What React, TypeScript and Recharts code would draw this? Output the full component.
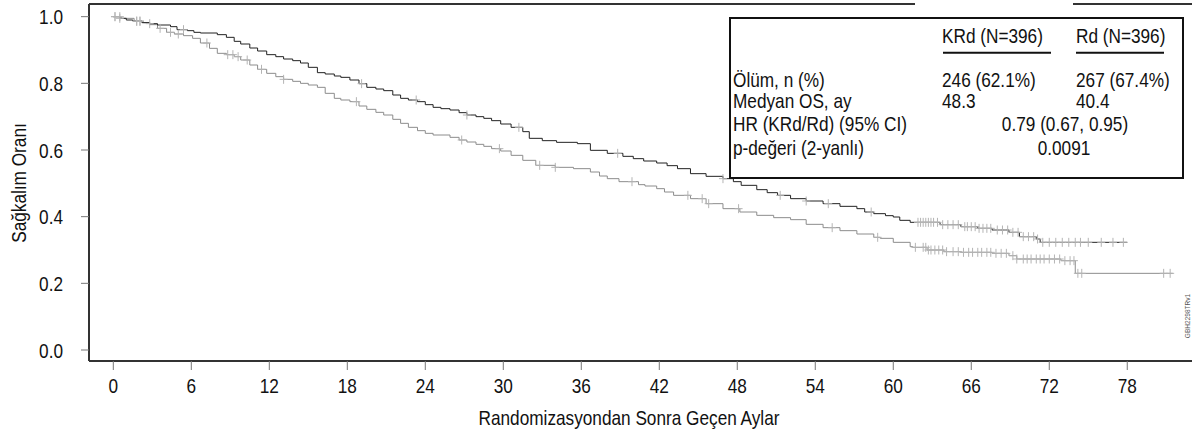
import React from 'react';
import { ComposedChart, Line, Scatter, XAxis, YAxis } from 'recharts';

const KRD_MONTHS = [0,0.5,1.0,1.5,2.2,2.8,3.4,4.4,4.9,5.7,6.2,6.7,8.0,8.7,9.3,9.8,10.5,11.1,11.8,12.5,13.1,13.8,14.4,15.0,15.7,16.3,17.0,17.5,18.2,18.9,19.5,20.2,20.8,21.5,22.1,22.7,23.4,24.0,24.6,25.2,25.9,26.6,27.2,27.9,28.5,29.1,29.8,30.6,31.5,32.0,33.0,34.1,35.7,36.7,38.0,39.2,40.0,40.8,41.8,42.6,43.4,44.4,45.6,46.9,47.7,48.3,49.5,50.3,51.1,52.1,53.3,54.6,55.9,57.2,57.8,58.5,59.4,60.0,60.5,61.3,63.6,65.2,66.5,67.6,68.9,69.7,71.0,71.3,78.0];
const KRD_SURV = [1.0,0.995,0.99,0.987,0.982,0.979,0.975,0.97,0.961,0.958,0.953,0.951,0.946,0.938,0.926,0.918,0.906,0.897,0.886,0.88,0.873,0.868,0.861,0.848,0.832,0.828,0.822,0.818,0.81,0.799,0.788,0.783,0.778,0.765,0.755,0.75,0.745,0.736,0.728,0.724,0.72,0.712,0.705,0.7,0.695,0.688,0.678,0.668,0.655,0.635,0.628,0.623,0.619,0.599,0.59,0.581,0.574,0.567,0.561,0.553,0.544,0.529,0.521,0.514,0.505,0.494,0.481,0.472,0.464,0.454,0.447,0.439,0.431,0.424,0.414,0.409,0.403,0.399,0.389,0.383,0.376,0.37,0.365,0.36,0.353,0.34,0.333,0.323,0.323];

const RD_MONTHS = [0,0.6,1.6,2.3,2.8,3.4,4.1,4.7,5.4,6.1,6.7,7.4,8.0,8.7,9.3,9.8,10.5,11.1,11.8,12.5,13.1,13.8,14.4,15.0,15.7,16.3,17.0,17.5,18.2,18.9,19.5,20.2,20.8,21.5,22.1,22.7,23.4,24.0,24.6,25.9,26.6,27.2,27.9,28.5,29.1,29.8,30.6,31.5,32.5,34.0,35.4,36.7,37.4,38.0,38.9,40.4,40.9,41.8,42.4,43.1,44.4,45.6,46.9,48.2,49.5,50.8,52.1,53.3,54.6,55.9,57.2,58.5,59.0,60.0,61.3,61.5,62.6,63.9,65.2,67.6,68.9,69.5,72.9,74.0,81.5];
const RD_SURV = [1.0,0.995,0.986,0.982,0.976,0.965,0.953,0.948,0.943,0.935,0.921,0.905,0.89,0.886,0.88,0.87,0.855,0.842,0.83,0.82,0.812,0.806,0.8,0.795,0.788,0.77,0.755,0.75,0.745,0.732,0.722,0.713,0.705,0.692,0.68,0.668,0.658,0.65,0.645,0.638,0.63,0.624,0.617,0.611,0.604,0.597,0.584,0.569,0.554,0.548,0.544,0.534,0.522,0.514,0.505,0.496,0.492,0.484,0.474,0.464,0.454,0.439,0.424,0.414,0.404,0.397,0.391,0.377,0.367,0.358,0.348,0.338,0.335,0.323,0.31,0.308,0.3,0.295,0.293,0.29,0.283,0.273,0.268,0.23,0.23];

const KRD_CENSOR = [0.13,0.5,1.8,2.05,2.8,5.4,19.1,23.3,27.2,31.2,38.8,46.9,51.3,53.3,55.0,58.3,61.9,62.1,62.3,62.5,62.7,62.9,63.1,63.4,63.8,64.2,64.6,65.0,65.5,65.7,66.0,66.3,66.6,66.9,67.2,67.5,68.0,68.4,68.8,69.2,69.6,70.0,70.4,70.8,71.1,71.5,72.0,72.5,73.0,73.5,74.0,74.4,75.0,76.0,76.9,77.7];
const RD_CENSOR = [0.13,0.5,1.8,2.05,3.6,4.4,5.0,7.2,8.8,9.2,9.6,10.3,11.4,13.1,18.7,26.8,29.7,32.8,34.0,39.9,44.2,45.3,45.8,48.1,55.3,58.8,61.7,62.3,62.5,62.7,62.9,63.2,63.5,63.8,64.1,64.6,65.0,65.4,65.8,66.1,66.5,66.8,67.2,67.5,67.9,68.3,68.7,69.2,69.5,70.0,70.3,70.6,71.0,71.3,71.6,72.0,72.4,72.8,73.2,73.6,73.9,74.2,74.5,80.8,81.3];

const X_TICKS = [0,6,12,18,24,30,36,42,48,54,60,66,72,78];
const Y_TICKS = [0,0.2,0.4,0.6,0.8,1.0];

const LEGEND_HEAD = ['KRd (N=396)', 'Rd (N=396)'];
const ROW_LABELS = ['Ölüm, n (%)', 'Medyan OS, ay', 'HR (KRd/Rd) (95% CI)', 'p-değeri (2-yanlı)'];
const KRD_STATS = ['246 (62.1%)', '48.3'];
const RD_STATS = ['267 (67.4%)', '40.4'];
const HR_TEXT = '0.79 (0.67, 0.95)';
const P_TEXT = '0.0091';

const X_TITLE = 'Randomizasyondan Sonra Geçen Aylar';
const Y_TITLE = 'Sağkalım Oranı';
const CODE = 'GBH2298TRv1';

const F = "'Liberation Sans', Arial, sans-serif";
const SX = 0.82;

const toSeries = (ms: number[], vs: number[]) => ms.map((m, i) => ({ m, v: vs[i] }));
const stepAt = (ms: number[], vs: number[], t: number) => {
  let v = vs[0];
  for (let i = 0; i < ms.length; i++) if (ms[i] <= t) v = vs[i];
  return v;
};
const toCensor = (cs: number[], ms: number[], vs: number[]) => cs.map((m) => ({ m, v: stepAt(ms, vs, m) }));

const krdData = toSeries(KRD_MONTHS, KRD_SURV);
const rdData = toSeries(RD_MONTHS, RD_SURV);
const krdCens = toCensor(KRD_CENSOR, KRD_MONTHS, KRD_SURV);
const rdCens = toCensor(RD_CENSOR, RD_MONTHS, RD_SURV);

// Narrow-looking text: Liberation Sans horizontally condensed (Arial Narrow substitute)
const NText = ({ x, y, anchor = 'start', size = 21, rotate = 0, fill = '#111', children }: any) => (
  <text
    transform={`translate(${x},${y})${rotate ? ` rotate(${rotate})` : ''} scale(${SX},1)`}
    textAnchor={anchor}
    fontSize={size}
    fontFamily={F}
    fill={fill}
  >
    {children}
  </text>
);

const Plus = (props: any) => {
  const { cx, cy } = props;
  if (cx == null || cy == null) return null;
  return <path d={`M${cx - 4},${cy}h8M${cx},${cy - 4.5}v9`} stroke="#b4b4b4" strokeWidth={1} fill="none" />;
};

const XTick = (props: any) => (
  <NText x={props.x} y={props.y + 15} anchor="middle">{props.payload.value}</NText>
);
const YTick = (props: any) => (
  <NText x={props.x} y={props.y + 7.5} anchor="end">{Number(props.payload.value).toFixed(1)}</NText>
);

export default function App() {
  return (
    <div style={{ position: 'absolute', left: 0, top: 0, width: 1192, height: 433, background: '#fff' }}>
      <ComposedChart width={1192} height={433} margin={{ top: 4, right: 0, bottom: 0, left: 0 }}>
        <XAxis
          dataKey="m"
          type="number"
          domain={[-1.87, 82.98]}
          ticks={X_TICKS}
          allowDataOverflow
          height={72}
          tickSize={9}
          tickMargin={8}
          axisLine={{ stroke: '#333', strokeWidth: 2 }}
          tickLine={{ stroke: '#777', strokeWidth: 1 }}
          tick={<XTick />}
          interval={0}
        />
        <YAxis
          type="number"
          domain={[-0.033, 1.038]}
          ticks={Y_TICKS}
          allowDataOverflow
          width={89}
          tickSize={8}
          tickMargin={18}
          axisLine={{ stroke: '#333', strokeWidth: 2 }}
          tickLine={{ stroke: '#777', strokeWidth: 1 }}
          tick={<YTick />}
          interval={0}
        />
        <Line data={rdData} dataKey="v" type="stepAfter" stroke="#8c8c8c" strokeWidth={1} dot={false} isAnimationActive={false} />
        <Line data={krdData} dataKey="v" type="stepAfter" stroke="#222" strokeWidth={1} dot={false} isAnimationActive={false} />
        <Scatter data={rdCens} dataKey="v" shape={<Plus />} isAnimationActive={false} />
        <Scatter data={krdCens} dataKey="v" shape={<Plus />} isAnimationActive={false} />
      </ComposedChart>
      <svg width={1192} height={433} style={{ position: 'absolute', left: 0, top: 0, pointerEvents: 'none' }}>
        <line x1={89} y1={4} x2={915} y2={4} stroke="#333" strokeWidth={2} />
        <line x1={1073} y1={4} x2={1192} y2={4} stroke="#333" strokeWidth={2} />
        <NText x={26} y={183} rotate={-90} anchor="middle">{Y_TITLE}</NText>
        <NText x={629} y={425} anchor="middle">{X_TITLE}</NText>
        <NText x={1190} y={316} rotate={-90} anchor="middle" size={8} fill="#555">{CODE}</NText>
        <rect x={730} y={18} width={453} height={160} fill="#fff" stroke="#111" strokeWidth={2} />
        <NText x={942} y={43}>{LEGEND_HEAD[0]}</NText>
        <NText x={1076} y={43}>{LEGEND_HEAD[1]}</NText>
        <NText x={733} y={86.5}>{ROW_LABELS[0]}</NText>
        <NText x={733} y={108}>{ROW_LABELS[1]}</NText>
        <NText x={733} y={131}>{ROW_LABELS[2]}</NText>
        <NText x={733} y={155}>{ROW_LABELS[3]}</NText>
        <NText x={942} y={86.5}>{KRD_STATS[0]}</NText>
        <NText x={942} y={108}>{KRD_STATS[1]}</NText>
        <NText x={1076} y={86.5}>{RD_STATS[0]}</NText>
        <NText x={1076} y={108}>{RD_STATS[1]}</NText>
        <NText x={1065} y={131} anchor="middle">{HR_TEXT}</NText>
        <NText x={1064} y={155} anchor="middle">{P_TEXT}</NText>
        <line x1={943} y1={52.7} x2={1051} y2={52.7} stroke="#111" strokeWidth={2} />
        <line x1={1076} y1={52.7} x2={1164} y2={52.7} stroke="#111" strokeWidth={2} />
      </svg>
    </div>
  );
}
